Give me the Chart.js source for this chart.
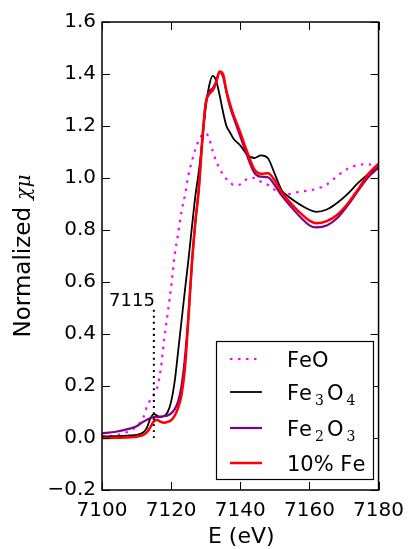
<!DOCTYPE html>
<html>
<head>
<meta charset="utf-8">
<script src="https://cdn.jsdelivr.net/npm/chart.js@4.4.1/dist/chart.umd.min.js"></script>
<style>
  html, body { margin: 0; padding: 0; background: #fff; }
  canvas { display: block; }
</style>
</head>
<body>
<canvas id="xanes" width="413" height="549"></canvas>
<script>
// Fe K-edge XANES, normalized absorption vs photon energy
const energy = [7100, 7104, 7108, 7110, 7112, 7113, 7114, 7115, 7116, 7117, 7118, 7119, 7120, 7121, 7122, 7123,
  7124, 7125, 7126, 7127, 7128, 7129, 7130, 7131, 7132, 7133, 7134, 7135, 7136, 7137, 7138, 7140,
  7142, 7144, 7146, 7148, 7150, 7152, 7154, 7157, 7160, 7162, 7165, 7168, 7171, 7174, 7177, 7180];

const feO = [0.005, 0.01, 0.027, 0.045, 0.08, 0.12, 0.147, 0.167, 0.195, 0.265, 0.38, 0.48, 0.58, 0.70, 0.785, 0.87,
  0.935, 1.01, 1.065, 1.11, 1.145, 1.166, 1.172, 1.152, 1.105, 1.065, 1.037, 1.013, 0.996, 0.984, 0.973, 0.975,
  0.997, 1.0, 0.985, 0.973, 0.954, 0.943, 0.938, 0.947, 0.952, 0.958, 0.975, 1.007, 1.035, 1.05, 1.053, 1.04];

const fe3o4 = [0.006, 0.007, 0.01, 0.012, 0.022, 0.04, 0.075, 0.092, 0.085, 0.08, 0.085, 0.1, 0.14, 0.215, 0.33, 0.45,
  0.57, 0.685, 0.81, 0.93, 1.025, 1.14, 1.27, 1.355, 1.393, 1.375, 1.32, 1.255, 1.2, 1.176, 1.152, 1.125,
  1.09, 1.077, 1.087, 1.076, 1.015, 0.952, 0.928, 0.9, 0.878, 0.87, 0.879, 0.904, 0.938, 0.98, 1.015, 1.04];

const fe2o3 = [0.018, 0.024, 0.036, 0.045, 0.063, 0.07, 0.077, 0.08, 0.081, 0.082, 0.084, 0.087, 0.095, 0.11, 0.14, 0.2,
  0.31, 0.47, 0.67, 0.83, 0.96, 1.15, 1.29, 1.332, 1.345, 1.37, 1.408, 1.39, 1.33, 1.275, 1.235, 1.16,
  1.085, 1.022, 1.005, 1.003, 0.972, 0.932, 0.9, 0.855, 0.818, 0.81, 0.817, 0.845, 0.893, 0.95, 1.003, 1.04];

const fe10 = [0.0, 0.001, 0.003, 0.005, 0.012, 0.022, 0.042, 0.064, 0.069, 0.062, 0.059, 0.062, 0.068, 0.085, 0.115, 0.165,
  0.27, 0.46, 0.67, 0.83, 0.955, 1.14, 1.285, 1.322, 1.336, 1.365, 1.41, 1.4, 1.335, 1.285, 1.245, 1.175,
  1.1, 1.035, 1.016, 1.018, 0.99, 0.945, 0.912, 0.87, 0.836, 0.826, 0.834, 0.858, 0.9, 0.955, 1.015, 1.055];

const seriesLabels = ['FeO', 'Fe₃O₄', 'Fe₂O₃', '10% Fe'];
const xTicks = [7100, 7120, 7140, 7160, 7180];
const yTicks = [-0.2, 0, 0.2, 0.4, 0.6, 0.8, 1.0, 1.2, 1.4, 1.6];
const preEdgeE = 7115;
const preEdgeTop = 0.5;

const pts = arr => energy.map((e, i) => ({ x: e, y: arr[i] }));
const SANS = '"DejaVu Sans", sans-serif';
const MATH = 'italic 20px "DejaVu Serif", serif';

// matplotlib-ish frame with inward ticks on all four sides, plus axis titles
const framePlugin = {
  id: 'frame',
  afterDatasetsDraw(chart) {
    const { ctx, chartArea: a, scales: { x, y } } = chart;
    ctx.save();
    ctx.strokeStyle = '#000';
    ctx.lineWidth = 1;
    ctx.beginPath();
    xTicks.forEach(v => {
      const px = Math.round(x.getPixelForValue(v)) + 0.5;
      ctx.moveTo(px, a.bottom); ctx.lineTo(px, a.bottom - 8);
      ctx.moveTo(px, a.top); ctx.lineTo(px, a.top + 8);
    });
    yTicks.forEach(v => {
      const py = Math.round(y.getPixelForValue(v)) + 0.5;
      ctx.moveTo(a.left, py); ctx.lineTo(a.left + 8, py);
      ctx.moveTo(a.right, py); ctx.lineTo(a.right - 8, py);
    });
    ctx.stroke();
    ctx.lineWidth = 1.5;
    ctx.strokeRect(a.left, a.top, a.right - a.left, a.bottom - a.top);

    ctx.fillStyle = '#000';
    ctx.textBaseline = 'alphabetic';

    // pre-edge annotation label
    ctx.font = '18px ' + SANS;
    ctx.textAlign = 'right';
    ctx.fillText(String(preEdgeE), x.getPixelForValue(preEdgeE) + 1, y.getPixelForValue(preEdgeTop) - 2);

    // x axis title
    ctx.font = '22px ' + SANS;
    ctx.textAlign = 'center';
    ctx.fillText('E (eV)', (a.left + a.right) / 2 + 1, 543);

    // y axis title with math-style chi mu
    const t1 = 'Normalized ', t2 = 'χμ';
    ctx.font = '23px ' + SANS;
    const w1 = ctx.measureText(t1).width;
    ctx.font = MATH;
    const w2 = ctx.measureText(t2).width;
    ctx.translate(30, (a.top + a.bottom) / 2);
    ctx.rotate(-Math.PI / 2);
    ctx.textAlign = 'left';
    ctx.font = '23px ' + SANS;
    ctx.fillText(t1, -(w1 + w2) / 2, 0);
    ctx.font = MATH;
    ctx.fillText(t2, -(w1 + w2) / 2 + w1, 0);
    ctx.restore();
  }
};

// draws a label, rendering unicode subscript digits as lowered small serif digits
function drawLabel(ctx, text, x, y) {
  let cx = x;
  for (const ch of text) {
    const code = ch.charCodeAt(0);
    if (code >= 0x2080 && code <= 0x2089) {
      const d = String.fromCharCode(code - 0x2080 + 48);
      ctx.font = '14px "DejaVu Serif", serif';
      cx += 3;
      ctx.fillText(d, cx, y + 5);
      cx += ctx.measureText(d).width + 3;
    } else {
      ctx.font = '21px ' + SANS;
      ctx.fillText(ch, cx, y);
      cx += ctx.measureText(ch).width;
    }
  }
}

const legendPlugin = {
  id: 'boxLegend',
  afterDraw(chart) {
    const { ctx } = chart;
    const box = { l: 216, t: 341, r: 373, b: 479 };
    const rowY = [359, 392, 428, 463];
    ctx.save();
    ctx.fillStyle = '#fff';
    ctx.fillRect(box.l, box.t, box.r - box.l, box.b - box.t);
    ctx.strokeStyle = '#000';
    ctx.lineWidth = 1.2;
    ctx.strokeRect(box.l + 0.5, box.t + 0.5, box.r - box.l, box.b - box.t);
    let row = 0;
    chart.data.datasets.forEach(ds => {
      if (!ds.inLegend) return;
      const ly = rowY[row++];
      ctx.strokeStyle = ds.borderColor;
      ctx.lineWidth = ds.borderWidth;
      ctx.setLineDash(ds.borderDash || []);
      ctx.beginPath();
      ctx.moveTo(230, ly);
      ctx.lineTo(262, ly);
      ctx.stroke();
      ctx.setLineDash([]);
      ctx.fillStyle = '#000';
      ctx.textAlign = 'left';
      ctx.textBaseline = 'alphabetic';
      drawLabel(ctx, ds.label, 287, ly + 7.5);
    });
    ctx.restore();
  }
};

Chart.defaults.color = '#000';
Chart.defaults.font.family = SANS;

new Chart(document.getElementById('xanes'), {
  type: 'line',
  data: {
    datasets: [
      { label: seriesLabels[0], data: pts(feO), borderColor: '#ff00ff', borderWidth: 2.2, borderDash: [2.5, 5.5], order: 4, inLegend: true },
      { label: seriesLabels[1], data: pts(fe3o4), borderColor: '#000000', borderWidth: 1.8, order: 3, inLegend: true },
      { label: seriesLabels[2], data: pts(fe2o3), borderColor: '#800080', borderWidth: 2.2, order: 2, inLegend: true },
      { label: seriesLabels[3], data: pts(fe10), borderColor: '#ff0000', borderWidth: 2.5, order: 1, inLegend: true },
      { label: 'pre-edge', data: [{ x: preEdgeE, y: 0 }, { x: preEdgeE, y: preEdgeTop }], borderColor: '#000000',
        borderWidth: 2, borderDash: [2, 4], order: 0, inLegend: false }
    ]
  },
  options: {
    responsive: false,
    animation: false,
    events: [],
    layout: { padding: { top: 22, right: 29, left: 0, bottom: 0 } },
    elements: {
      point: { radius: 0 },
      line: { cubicInterpolationMode: 'monotone', fill: false, borderCapStyle: 'butt' }
    },
    plugins: { legend: { display: false }, tooltip: { enabled: false } },
    scales: {
      x: {
        type: 'linear',
        min: 7100,
        max: 7180,
        afterBuildTicks: s => { s.ticks = xTicks.map(v => ({ value: v })); },
        afterFit: s => { s.height = 59; },
        grid: { display: false, drawTicks: false },
        border: { display: false },
        ticks: { padding: 9, font: { size: 20 }, maxRotation: 0, callback: v => String(v) }
      },
      y: {
        type: 'linear',
        min: -0.2,
        max: 1.6,
        afterBuildTicks: s => { s.ticks = yTicks.map(v => ({ value: v })); },
        afterFit: s => { s.width = 102; },
        grid: { display: false, drawTicks: false },
        border: { display: false },
        ticks: {
          padding: 6,
          font: { size: 20 },
          callback: v => (Math.abs(v) < 1e-9 ? '0.0' : Number(v).toFixed(1).replace('-', '\u2212'))
        }
      }
    }
  },
  plugins: [framePlugin, legendPlugin]
});
</script>
</body>
</html>
